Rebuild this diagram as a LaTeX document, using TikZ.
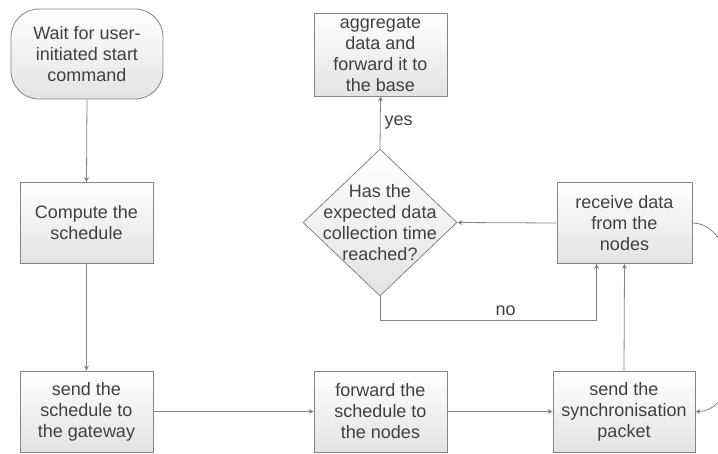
\documentclass[tikz,border=0pt]{standalone}
\usepackage{fontspec}
\setmainfont{Liberation Sans}
\usetikzlibrary{positioning}
\usetikzlibrary{arrows.meta}
\usetikzlibrary{shapes.geometric}
\definecolor{linegray}{HTML}{858585}
\definecolor{txtgray}{HTML}{404040}
\definecolor{fillbot}{HTML}{E3E3E3}
\tikzset{
    every node/.append style={text=txtgray,font=\fontsize{18}{21}\selectfont,align=center},
    proc/.style={draw=linegray, line width=0.8pt, top color=white, bottom color=fillbot, minimum width=133pt, minimum height=81pt, inner sep=0pt},
    startbox/.style={proc, rounded corners=28pt, minimum width=152pt, minimum height=90pt},
    decision/.style={diamond, draw=linegray, line width=0.8pt, top color=white, bottom color=fillbot, minimum width=154pt, minimum height=147pt, inner sep=0pt},
    flow/.style={-{Stealth[length=5pt,width=5pt]}, linegray, line width=0.8pt},
    x=1pt, y=-1pt
}
\begin{document}
\begin{tikzpicture}
\useasboundingbox (0,0) rectangle (718,453);
\node[startbox] (wait) at (87,54) {Wait for user-\\initiated start\\command};
\node[proc] (comp) at (86.5,223) {Compute the\\schedule};
\node[proc] (send) at (86.5,411.5) {send the\\schedule to\\the gateway};
\node[proc] (fwd) at (380.5,411.5) {forward the\\schedule to\\the nodes};
\node[proc, minimum width=142pt] (sync) at (624,411.5) {send the\\synchronisation\\packet};
\node[proc, minimum width=135pt] (recv) at (624.5,223) {receive data\\from the\\nodes};
\node[proc, minimum height=83pt] (aggr) at (380.5,54.5) {aggregate\\data and\\forward it to\\the base};
\node[decision] (chk) at (380,222.5) {};
\node (chktxt) at (chk.center) {Has the\\expected data\\collection time\\reached?};

\draw[flow] (wait.south) -- (comp.north);
\draw[flow] (comp.south) -- (send.north);
\draw[flow] (send.east) -- (fwd.west);
\draw[flow] (fwd.east) -- (sync.west);
\draw[flow] (sync.north) -- (recv.south);
\draw[flow] (recv.west) -- (chk.east);
\draw[flow] (chk.north) -- (aggr.south) node[midway, right, inner sep=4pt] {yes};
\draw[flow] (chk.south) -- ++(0,24) -| ([xshift=-28pt]recv.south) node[pos=0.29, above, inner sep=4pt] {no};
\draw[flow] (recv.east) .. controls +(60,0) and +(60,0) .. (sync.east);
\end{tikzpicture}
\end{document}
